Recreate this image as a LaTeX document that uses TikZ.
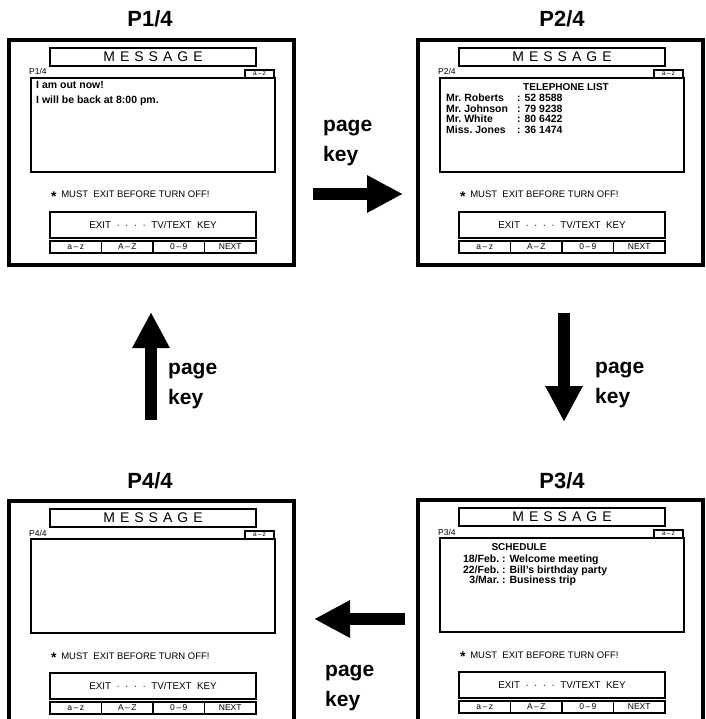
\documentclass[tikz,border=0pt]{standalone}
\usepackage{fontspec}
\setmainfont{Liberation Sans}
\usetikzlibrary{arrows.meta}
\newcommand{\msgtitle}{M\kern5pt E\kern5pt S\kern5pt S\kern5pt A\kern5pt G\kern5pt E}
\newcommand{\warnstar}{\raisebox{-3.5pt}{\fontsize{14}{14}\selectfont\bfseries *}\kern2pt}

\tikzset{
  screenframe/.style={draw, line width=3.5pt, anchor=north west, minimum width=285pt, minimum height=225pt, inner sep=0, outer sep=0},
  msgbox/.style={draw, line width=1.5pt, anchor=north west, minimum width=206pt, minimum height=18pt, inner sep=0, outer sep=0, font=\fontsize{14}{14}\selectfont},
  textbox/.style={draw, line width=1.7pt, anchor=north west, minimum width=244pt, minimum height=94pt, outer sep=0},
  smallbox/.style={draw, line width=1.2pt, anchor=south east, minimum width=29pt, minimum height=8pt, inner sep=0, outer sep=0, font=\fontsize{6.5}{6.5}\selectfont},
  plabel/.style={anchor=base west, inner sep=0, font=\fontsize{8.5}{8.5}\selectfont},
  warn/.style={anchor=base west, inner sep=0, font=\fontsize{9.5}{9.5}\selectfont},
  exitbox/.style={draw, line width=1.5pt, anchor=north west, minimum width=206pt, minimum height=26pt, outer sep=0, font=\fontsize{9.8}{9.8}\selectfont},
  keybox/.style={draw, line width=1.5pt, anchor=north west, minimum width=51.5pt, minimum height=12pt, inner sep=0, outer sep=0, font=\fontsize{8.5}{8.5}\selectfont},
  boxtext/.style={anchor=north west, inner sep=0, align=left, font=\bfseries\fontsize{10.5}{15}\selectfont},
  heading/.style={anchor=north, inner sep=0, font=\bfseries\fontsize{10}{10}\selectfont},
  bigarrow/.style={line width=11.5pt, -{Triangle[length=36pt,width=35pt]}},
  keylabel/.style={anchor=base west, inner sep=0, align=left, font=\bfseries\fontsize{21}{30}\selectfont},
  pagetitle/.style={anchor=base, inner sep=0, font=\bfseries\fontsize{22}{22}\selectfont},
  pics/screen/.style={code={
    \node[screenframe] (-frame) at (0,0) {};
    \node[msgbox] (-msg) at (41,8) {\msgtitle};
    \node[plabel] (-pg) at (20,35) {#1};
    \node[textbox] (-box) at (22,38) {};
    \node[smallbox] (-az) at (265,38) {a\,--\,z};
    \node[warn] (-warn) at (42,158) {\warnstar\ MUST\ \ EXIT BEFORE TURN OFF!};
    \node[exitbox] (-exit) at (41,172) {EXIT \ · \ · \ · \ · \ TV/TEXT\ \ KEY};
    \foreach \lab [count=\i] in {a\,--\,z,A\,--\,Z,0\,--\,9,NEXT}
      \node[keybox] (-k\i) at ({41+(\i-1)*51.5},201) {\lab};
  }}
}

\begin{document}
\begin{tikzpicture}[x=1pt, y=-1pt]
  \useasboundingbox (0,0) rectangle (705,719);

  % the four pages
  \pic (s1) at (9,40) {screen={P1/4}};
  \pic (s2) at (418,40) {screen={P2/4}};
  \pic (s3) at (418,500) {screen={P3/4}};
  \pic (s4) at (9,501) {screen={P4/4}};

  \node[pagetitle] (t1) at (150,27) {P1/4};
  \node[pagetitle] (t2) at (562,27) {P2/4};
  \node[pagetitle] (t3) at (562,488) {P3/4};
  \node[pagetitle] (t4) at (150,488) {P4/4};

  % page contents
  \node[boxtext] (m1) at ([shift={(5,3)}]s1-box.north west) {I am out now!\\I will be back at 8:00 pm.};

  \node[heading] (h2) at ([shift={(4,5)}]s2-box.north) {TELEPHONE LIST};
  \node[boxtext, font=\bfseries\fontsize{10.5}{10.4}\selectfont] (m2) at ([shift={(6,16)}]s2-box.north west)
    {\makebox[71pt][l]{Mr.\ Roberts}: 52 8588\\
     \makebox[71pt][l]{Mr.\ Johnson}: 79 9238\\
     \makebox[71pt][l]{Mr.\ White}: 80 6422\\
     \makebox[71pt][l]{Miss.\ Jones}: 36 1474};

  \node[heading] (h3) at ([shift={(79,5)}]s3-box.north west) {SCHEDULE};
  \node[boxtext, font=\bfseries\fontsize{10.5}{10.2}\selectfont] (m3) at ([shift={(6,17)}]s3-box.north west)
    {\makebox[53pt][r]{18/Feb.}\ : Welcome meeting\\
     \makebox[53pt][r]{22/Feb.}\ : Bill's birthday party\\
     \makebox[53pt][r]{3/Mar.}\ : Business trip};

  % page key arrows
  \coordinate (a1s) at (313,194);
  \coordinate (a1e) at (403,194);
  \coordinate (a2s) at (564,313);
  \coordinate (a2e) at (564,422);
  \coordinate (a3s) at (405,619);
  \coordinate (a3e) at (314,619);
  \coordinate (a4s) at (151,420);
  \coordinate (a4e) at (151,312);

  \draw[bigarrow] (a1s) -- (a1e);
  \draw[bigarrow] (a2s) -- (a2e);
  \draw[bigarrow] (a3s) -- (a3e);
  \draw[bigarrow] (a4s) -- (a4e);

  % the base anchor of a two-line label sits on its last line
  \node[keylabel] (k1) at (323,162) {page\\key};
  \node[keylabel] (k2) at (595,403) {page\\key};
  \node[keylabel] (k3) at (325,706) {page\\key};
  \node[keylabel] (k4) at (168,404) {page\\key};
\end{tikzpicture}
\end{document}
